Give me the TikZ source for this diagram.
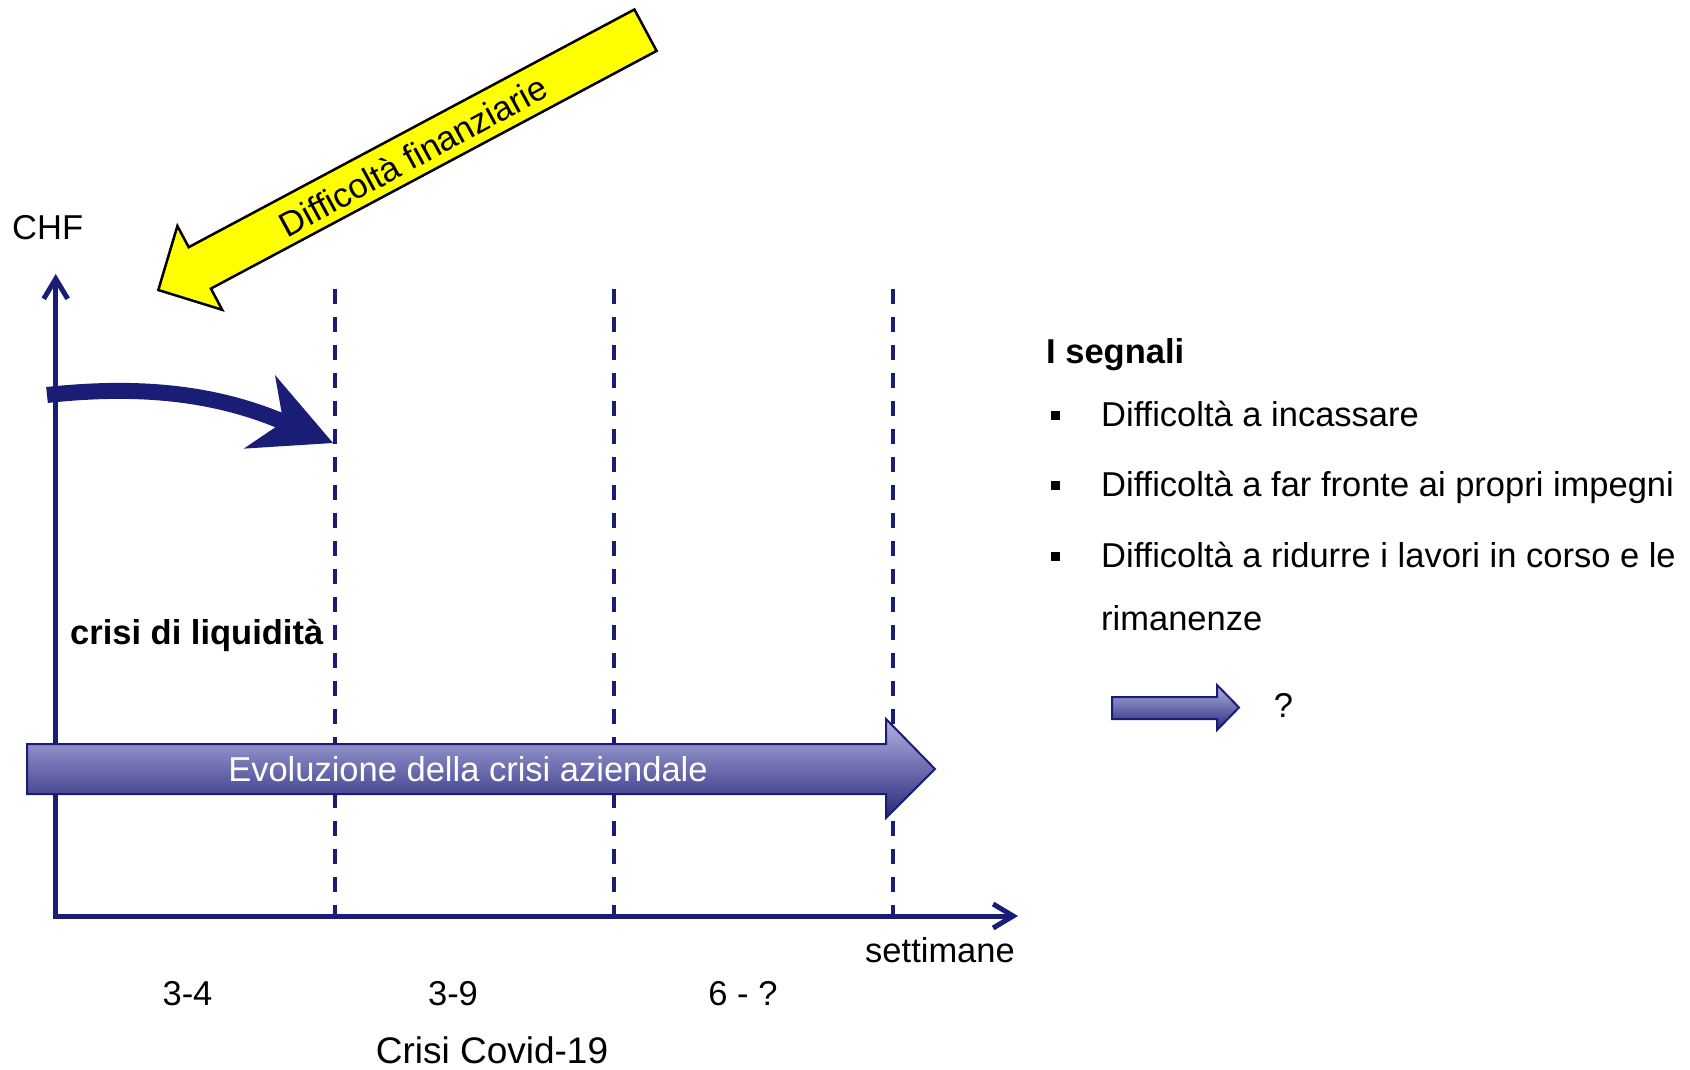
\documentclass[tikz,border=0pt]{standalone}
\usepackage{fontspec}
\setmainfont{Liberation Sans}[Ligatures=NoCommon]
\usetikzlibrary{arrows.meta,positioning}
\definecolor{navy}{RGB}{26,29,118}
\definecolor{arrowtop}{RGB}{178,178,225}
\definecolor{arrowbot}{RGB}{40,40,125}
\definecolor{signyellow}{RGB}{255,255,0}
\begin{document}
\begin{tikzpicture}[x=1pt,y=-1pt,
  lab/.style={font=\fontsize{34.5}{40}\selectfont,inner sep=0pt},
  boldlab/.style={font=\fontsize{34.5}{40}\selectfont\bfseries,inner sep=0pt},
  axisline/.style={navy,line width=5pt},
  weekline/.style={navy,line width=4pt,dash pattern=on 15pt off 13pt},
  fatarrow/.style={draw=navy,line width=2pt,top color=arrowtop,bottom color=arrowbot},
  bulletbox/.style={fill=black,minimum size=9pt,inner sep=0pt}]
\useasboundingbox (0,0) rectangle (1690,1070);
\coordinate (ytop) at (55.7,274);
\coordinate (orig) at (55.7,916);
\coordinate (xtip) at (1018,916);
\foreach \x [count=\i] in {335,614,893} {
  \coordinate (top\i) at (\x,289);
  \coordinate (bot\i) at (\x,916);
  \draw[weekline] (top\i) -- (bot\i);
}
\draw[axisline,{Straight Barb[length=20pt,width=24pt]}-{Straight Barb[length=20pt,width=24pt]}] (ytop) -- (orig) -- (xtip);
\node[lab,anchor=base west] (chf) at (12,239) {CHF};
\coordinate (cstart) at (47,395);
\coordinate (cend) at (333,443);
\draw[navy,line width=16pt,-{Stealth[length=80pt,width=80pt,inset=26pt,line width=0pt]}] (cstart) .. controls (140,385) and (215,393) .. (cend);
\draw[black,line width=2.5pt,fill=signyellow] (158.3,290) -- (177.4,226) -- (188.7,247.2) -- (634.4,9.5) -- (656.6,50.9) -- (210.9,288.6) -- (222.2,309.8) -- cycle;
\node[lab,rotate=28.5] (diff) at (413,156) {Difficoltà finanziarie};
\node[boldlab,anchor=base west] (liq) at (70,644) {crisi di liquidità};
\draw[fatarrow] (27,744) -- (886,744) -- (886,719) -- (935,769) -- (886,818) -- (886,794) -- (27,794) -- cycle;
\node[lab,white,anchor=base] (evo) at (468,781) {Evoluzione della crisi aziendale};
\node[lab,anchor=base east] (sett) at (1015,962) {settimane};
\node[lab,anchor=base] (w1) at (187.5,1005) {3-4};
\node[lab,anchor=base] (w2) at (453,1005) {3-9};
\node[lab,anchor=base] (w3) at (743,1005) {6 - ?};
\node[lab,font=\fontsize{37}{42}\selectfont,anchor=base] (covid) at (492,1063) {Crisi Covid-19};
\node[boldlab,anchor=base west] (segn) at (1046,363) {I segnali};
\foreach \y [count=\i] in {426,496,567} {
  \node[bulletbox] (b\i) at (1055,\y-11) {};
}
\node[lab,anchor=base west] (s1) at (1101,426) {Difficoltà a incassare};
\node[lab,anchor=base west] (s2) at (1101,496) {Difficoltà a far fronte ai propri impegni};
\node[lab,anchor=base west] (s3) at (1101,567) {Difficoltà a ridurre i lavori in corso e le};
\node[lab,anchor=base west] (s4) at (1101,630) {rimanenze};
\draw[fatarrow] (1112,697) -- (1217,697) -- (1217,685) -- (1239,707.5) -- (1217,730) -- (1217,719) -- (1112,719) -- cycle;
\node[lab,anchor=base] (q) at (1283.5,717) {?};
\end{tikzpicture}
\end{document}
